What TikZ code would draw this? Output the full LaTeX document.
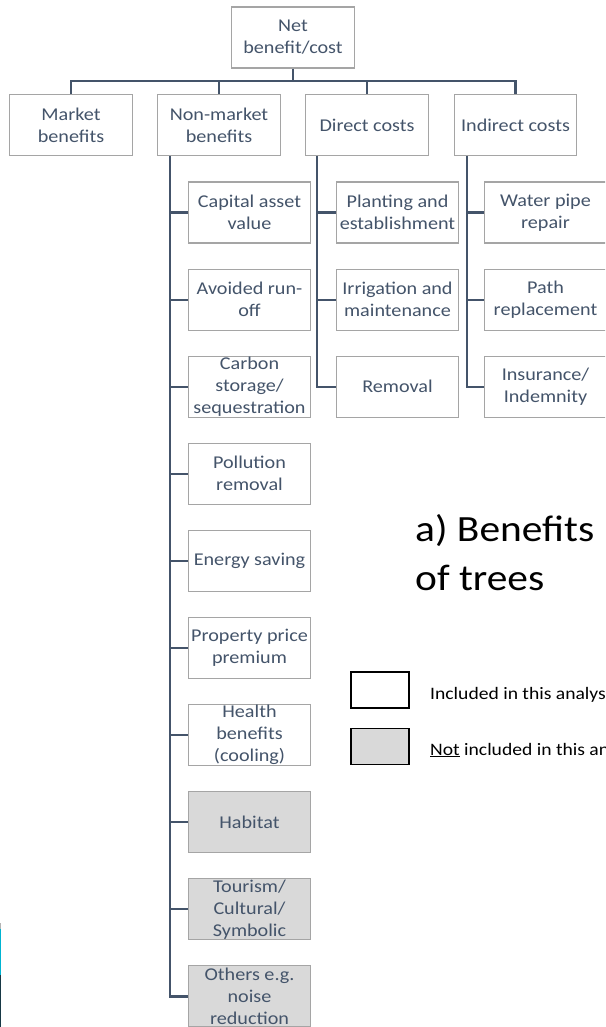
\documentclass[tikz,border=0pt]{standalone}
\usepackage{fontspec}
\setmainfont{Carlito}[FakeStretch=1.12]
\usetikzlibrary{calc}
\definecolor{slate}{HTML}{44546A}
\definecolor{boxline}{HTML}{A5A5A5}
\definecolor{notfill}{HTML}{D9D9D9}
\definecolor{barcyan}{HTML}{00B4D2}
\definecolor{bardark}{HTML}{173845}
\definecolor{bargray}{HTML}{B4B4B4}

\begin{document}
\begin{tikzpicture}[x=1pt,y=-1pt,
  item/.style={draw=boxline, line width=1.1pt, fill=white, text=slate,
    minimum width=122.5pt, minimum height=61pt, inner sep=0pt, align=center,
    font=\fontsize{18}{22}\selectfont},
  excluded/.style={item, fill=notfill},
  link/.style={draw=slate, line width=2.2pt},
  keybox/.style={draw=black, line width=1.3pt, minimum width=58pt,
    minimum height=36pt, inner sep=0pt},
  keytext/.style={anchor=base west, inner sep=0pt, font=\fontsize{17.5}{21}\selectfont},
  heading/.style={anchor=base west, inner sep=0pt, font=\fontsize{37}{49}\selectfont}]

\useasboundingbox (0,0) rectangle (605,1027);
\clip (0,0) rectangle (605,1027);

% edge strip on the left
\fill[bargray] (0,923) rectangle (1.3,929);
\fill[barcyan] (0,929) rectangle (1.3,975);
\fill[bardark] (0,975) rectangle (1.3,1027);

% root and first level
\node[item] (net) at (293,37.5) {Net\\benefit/cost};
\node[item] (mkt) at (71,125) {Market\\benefits};
\node[item] (nonmkt) at (219,125) {Non-market\\benefits};
\node[item] (dcost) at (367,125) {Direct costs};
\node[item] (icost) at (515.5,125) {Indirect costs};

% non-market benefits
\node[item] (n1) at (249.5,212.5) {Capital asset\\value};
\node[item] (n2) at (249.5,299.6) {Avoided run-\\off};
\node[item] (n3) at (249.5,386.7) {Carbon\\storage/\\sequestration};
\node[item] (n4) at (249.5,473.8) {Pollution\\removal};
\node[item] (n5) at (249.5,560.9) {Energy saving};
\node[item] (n6) at (249.5,648) {Property price\\premium};
\node[item] (n7) at (249.5,735.1) {Health\\benefits\\(cooling)};
\node[excluded] (n8) at (249.5,822.2) {Habitat};
\node[excluded] (n9) at (249.5,909.3) {Tourism/\\Cultural/\\Symbolic};
\node[excluded] (n10) at (249.5,996.4) {Others e.g.\\noise\\reduction};

% direct costs
\node[item] (d1) at (397.5,212.5) {Planting and\\establishment};
\node[item] (d2) at (397.5,299.6) {Irrigation and\\maintenance};
\node[item] (d3) at (397.5,386.7) {Removal};

% indirect costs
\node[item] (i1) at (545.5,212.5) {Water pipe\\repair};
\node[item] (i2) at (545.5,299.6) {Path\\replacement};
\node[item] (i3) at (545.5,386.7) {Insurance/\\Indemnity};

% bus from the root
\coordinate (bus) at (0,81);
\draw[link] (net.south) -- (net.south |- bus);
\draw[link] (mkt.north) -- (mkt.north |- bus) -- (icost.north |- bus) -- (icost.north);
\draw[link] (nonmkt.north) -- (nonmkt.north |- bus);
\draw[link] (dcost.north) -- (dcost.north |- bus);

% trunks to the second level
\coordinate (nt) at ($(nonmkt.south west)+(12.5,0)$);
\coordinate (dt) at ($(dcost.south west)+(12,0)$);
\coordinate (it) at ($(icost.south west)+(13,0)$);
\draw[link] (nt) |- (n10.west);
\foreach \k in {1,...,9} \draw[link] (nt |- n\k.west) -- (n\k.west);
\draw[link] (dt) |- (d3.west);
\foreach \k in {1,2} \draw[link] (dt |- d\k.west) -- (d\k.west);
\draw[link] (it) |- (i3.west);
\foreach \k in {1,2} \draw[link] (it |- i\k.west) -- (i\k.west);

% heading
\node[heading] (title1) at (415,541.7) {a) Benefits};
\node[heading] (title2) at (415,590.7) {of trees};

% key
\node[keybox, fill=white] (keyin) at (380,690) {};
\node[keybox, fill=notfill] (keyout) at (380,746.5) {};
\node[keytext] (keyintext) at (430,699) {Included in this analysis};
\node[keytext] (keyouttext) at (430,755) {\underline{Not} included in this analysis};
\end{tikzpicture}
\end{document}
